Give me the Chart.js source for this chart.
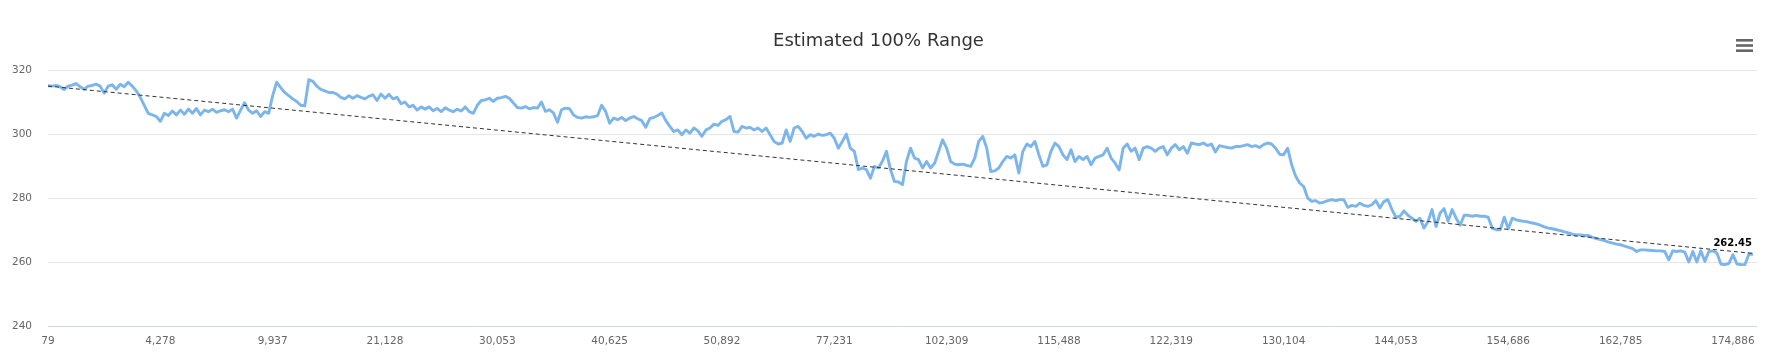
<!DOCTYPE html>
<html>
<head>
<meta charset="utf-8">
<script src="https://cdn.jsdelivr.net/npm/chart.js@4.4.1/dist/chart.umd.min.js"></script>
<style>
  html, body { margin: 0; padding: 0; background: #ffffff; }
  #wrap { width: 1768px; height: 356px; }
</style>
</head>
<body>
<div id="wrap"><canvas id="c" width="1768" height="356"></canvas></div>
<script>
// ---- data ----
const chartTitle = "Estimated 100% Range";
const lastValueLabel = "262.45";

// odometer tick labels, one every `tickEvery` readings
const tickLabels = ["79", "4,278", "9,937", "21,128", "30,053", "40,625", "50,892", "77,231",
  "102,309", "115,488", "122,319", "130,104", "144,053", "154,686", "162,785", "174,886"];
const tickEvery = 28;

// estimated 100% range readings (sequential)
const rangeValues = [
  315.1, 315.0, 315.2, 314.8, 313.9, 315.0, 315.3, 315.8, 314.8, 314.0,
  315.0, 315.2, 315.6, 315.0, 312.8, 315.0, 315.4, 314.0, 315.6, 314.8,
  316.2, 315.0, 313.5, 311.5, 309.0, 306.5, 306.0, 305.5, 304.0, 306.5,
  305.8, 307.2, 306.0, 307.5, 306.2, 307.8, 306.5, 308.0, 306.0, 307.5,
  307.0, 307.8, 306.8, 307.3, 307.6, 307.0, 307.8, 305.0, 307.5, 309.8,
  307.5, 306.5, 307.3, 305.5, 307.0, 306.5, 312.0, 316.2, 314.5, 313.0,
  312.0, 311.0, 310.2, 309.0, 308.8, 317.0, 316.5, 315.0, 314.0, 313.5,
  313.0, 313.0, 312.5, 311.5, 311.0, 312.0, 311.2, 312.0, 311.5, 311.0,
  311.8, 312.3, 310.5, 312.5, 311.2, 312.4, 311.0, 311.5, 309.5, 310.0,
  308.5, 309.0, 307.5, 308.5, 307.8, 308.5, 307.3, 308.0, 307.0, 308.2,
  307.5, 307.0, 307.8, 307.2, 308.5, 307.0, 306.5, 309.0, 310.5, 310.7,
  311.2, 310.2, 311.2, 311.4, 311.8, 311.2, 309.7, 308.3, 308.1, 308.6,
  307.9, 308.3, 308.1, 310.0, 307.1, 307.6, 306.6, 303.7, 307.6, 308.1,
  307.9, 306.0, 305.2, 305.0, 305.4, 305.2, 305.4, 305.8, 309.0, 307.1,
  303.4, 305.0, 304.5, 305.2, 304.2, 305.0, 305.5, 304.8, 304.2, 302.1,
  304.8, 305.2, 305.8, 306.6, 304.2, 302.4, 300.8, 301.3, 299.8, 301.3,
  300.3, 301.9, 301.0, 299.3, 301.3, 301.9, 303.1, 302.7, 304.0, 304.5,
  305.5, 300.8, 300.6, 302.4, 301.9, 302.1, 301.3, 301.9, 300.8, 301.9,
  299.8, 297.7, 296.9, 297.2, 301.3, 297.7, 301.9, 302.4, 300.8, 298.7,
  299.8, 299.3, 300.0, 299.6, 299.8, 300.3, 298.7, 295.6, 297.7, 300.0,
  295.6, 294.6, 288.9, 289.4, 288.9, 286.2, 289.9, 289.4, 291.5, 294.6,
  288.9, 285.2, 285.0, 284.2, 291.5, 295.6, 292.5, 292.0, 289.4, 291.4,
  289.4, 290.9, 294.6, 298.2, 295.6, 291.4, 290.6, 290.4, 290.6, 290.2,
  289.9, 292.5, 297.7, 299.3, 295.6, 288.3, 288.5, 289.4, 291.4, 293.0,
  292.5, 293.5, 287.8, 294.6, 296.9, 296.1, 297.7, 293.5, 289.9, 290.4,
  294.6, 297.2, 296.1, 293.5, 292.0, 295.1, 291.4, 293.0, 292.0, 293.0,
  290.4, 292.5, 293.0, 293.5, 295.6, 292.5, 290.9, 288.8, 295.6, 296.9,
  294.6, 295.6, 292.0, 295.6, 296.1, 295.6, 294.6, 295.6, 296.1, 293.5,
  295.6, 296.7, 295.1, 296.1, 294.0, 297.2, 296.9, 296.7, 297.2, 296.4,
  296.9, 294.4, 296.4, 296.1, 295.8, 295.6, 296.1, 296.1, 296.4, 296.7,
  296.1, 296.4, 295.8, 296.7, 297.2, 296.9, 295.6, 293.7, 293.5, 295.6,
  290.4, 286.8, 284.7, 283.6, 280.0, 279.0, 279.2, 278.4, 278.7, 279.2,
  279.5, 279.2, 279.5, 279.5, 277.1, 277.7, 277.4, 278.4, 277.7, 277.4,
  277.9, 279.2, 276.9, 278.9, 279.5, 276.4, 274.0, 274.3, 276.0, 274.6,
  273.7, 272.7, 273.7, 270.6, 272.7, 276.4, 271.1, 275.3, 276.7, 272.7,
  276.4, 273.7, 271.5, 274.6, 274.6, 274.3, 274.6, 274.3, 274.3, 274.0,
  270.6, 270.1, 270.1, 274.0, 270.4, 273.7, 273.2, 272.9, 272.7, 272.5,
  272.2, 271.9, 271.5, 271.0, 270.6, 270.4, 270.1, 269.8, 269.4, 269.1,
  268.7, 268.5, 268.5, 268.3, 268.3, 267.7, 267.3, 267.0, 266.7, 266.2,
  265.9, 265.6, 265.4, 265.0, 264.6, 264.2, 263.3, 263.8, 263.8, 263.7,
  263.6, 263.5, 263.5, 263.3, 260.7, 263.5, 263.3, 263.5, 263.1, 260.0,
  263.3, 260.0, 263.5, 260.2, 263.3, 263.5, 262.8, 259.4, 259.2, 259.6,
  262.3, 259.4, 259.2, 259.2, 262.5, 262.45
];

// linear trend line: value at first and last reading
const trendValues = [315.0, 262.7];

const yMin = 240, yMax = 320, yStep = 20;

// ---- build library structures ----
const lastIdx = rangeValues.length - 1;
const rangePoints = rangeValues.map((v, i) => ({ x: i, y: v }));
const trendPoints = [{ x: 0, y: trendValues[0] }, { x: lastIdx, y: trendValues[1] }];
const tickPositions = tickLabels.map((_, k) => k * tickEvery);

const FONT = '"DejaVu Sans", "Lucida Sans Unicode", sans-serif';

const extrasPlugin = {
  id: 'extras',
  afterDatasetsDraw(chart) {
    const ctx = chart.ctx;
    const meta = chart.getDatasetMeta(1);
    const pt = meta.data[meta.data.length - 1];
    ctx.save();
    ctx.font = 'bold 10px ' + FONT;
    const w = ctx.measureText(lastValueLabel).width;
    let cx = Math.min(pt.x, chart.chartArea.right - w / 2 - 5);
    const cy = pt.y - 6;
    ctx.textAlign = 'center';
    ctx.textBaseline = 'bottom';
    ctx.lineJoin = 'round';
    ctx.strokeStyle = '#ffffff';
    ctx.lineWidth = 2;
    ctx.strokeText(lastValueLabel, cx, cy);
    ctx.fillStyle = '#000000';
    ctx.fillText(lastValueLabel, cx, cy);
    ctx.restore();
  },
  afterDraw(chart) {
    // export-menu (hamburger) icon
    const ctx = chart.ctx;
    ctx.save();
    ctx.fillStyle = '#666666';
    const bx = chart.width - 32, by = 39;
    for (let k = 0; k < 3; k++) ctx.fillRect(bx, by + k * 5.2, 17, 2.6);
    ctx.restore();
  }
};

new Chart(document.getElementById('c'), {
  type: 'line',
  data: {
    datasets: [
      {
        label: 'Trend',
        data: trendPoints,
        borderColor: '#333333',
        borderWidth: 1,
        borderDash: [4, 3],
        pointRadius: 0,
        fill: false,
        tension: 0
      },
      {
        label: chartTitle,
        data: rangePoints,
        borderColor: '#7cb5ec',
        borderWidth: 2.9,
        pointRadius: 0,
        fill: false,
        tension: 0,
        borderJoinStyle: 'round'
      }
    ]
  },
  options: {
    responsive: false,
    animation: false,
    devicePixelRatio: 1,
    events: [],
    layout: { padding: { left: 0, right: 11, top: 0, bottom: 0 } },
    plugins: {
      legend: { display: false },
      tooltip: { enabled: false },
      title: {
        display: true,
        text: chartTitle,
        color: '#333333',
        font: { family: FONT, size: 18, weight: 'normal', lineHeight: 1.2 },
        padding: { top: 31, bottom: 17.5 }
      }
    },
    scales: {
      x: {
        type: 'linear',
        min: 0,
        max: lastIdx + 1,
        grid: { display: false, drawTicks: false },
        border: { display: false },
        afterBuildTicks(scale) {
          scale.ticks = tickPositions.map(v => ({ value: v }));
        },
        afterFit(scale) { scale.height = 30; },
        ticks: {
          autoSkip: false,
          maxRotation: 0,
          minRotation: 0,
          padding: 9,
          color: '#666666',
          font: { family: FONT, size: 10.5 },
          callback(value) {
            const k = Math.round(value / tickEvery);
            return tickLabels[k] !== undefined ? tickLabels[k] : '';
          }
        }
      },
      y: {
        min: yMin,
        max: yMax,
        grid: {
          drawTicks: false,
          lineWidth: 1,
          color: (c) => (c.tick && c.tick.value === yMin) ? '#ccd6eb' : '#e6e6e6'
        },
        border: { display: false },
        afterFit(scale) { scale.width = 48; },
        ticks: {
          stepSize: yStep,
          padding: 16,
          color: '#666666',
          font: { family: FONT, size: 10.5 }
        }
      }
    }
  },
  plugins: [extrasPlugin]
});
</script>
</body>
</html>
